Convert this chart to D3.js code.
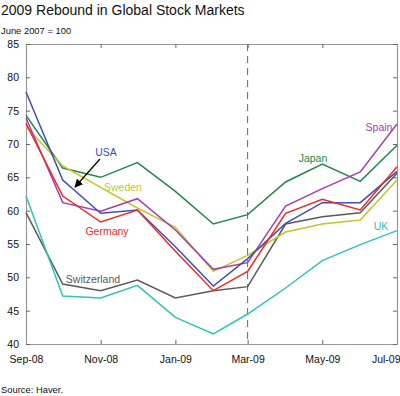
<!DOCTYPE html>
<html>
<head>
<meta charset="utf-8">
<script src="https://cdn.jsdelivr.net/npm/d3@7"></script>
<style>
body { margin: 0; background: #fff; }
text { font-family: "Liberation Sans", Arial, sans-serif; }
</style>
</head>
<body>
<div id="chart"></div>
<script>
const width = 400, height = 396;
const margin = {top: 44, right: 3, bottom: 52, left: 26};

// monthly, Sep-08 .. Jul-09
const months = ["2008-09", "2008-10", "2008-11", "2008-12", "2009-01", "2009-02",
  "2009-03", "2009-04", "2009-05", "2009-06", "2009-07"];
const tickMonths = ["2008-09", "2008-11", "2009-01", "2009-03", "2009-05", "2009-07"];
const yTicks = [40, 45, 50, 55, 60, 65, 70, 75, 80, 85];

const usa         = [77.8, 64.6, 59.6, 60.1, 54.6, 48.7, 52.8, 58.1, 61.2, 61.2, 65.9];
const japan       = [74.3, 66.4, 65.0, 67.2, 62.9, 58.0, 59.4, 64.3, 67.0, 64.4, 69.8];
const sweden      = [72.6, 66.7, 63.5, 60.4, 57.5, 50.9, 53.3, 56.8, 58.0, 58.6, 64.6];
const spain       = [73.9, 61.2, 59.9, 61.8, 57.1, 51.2, 52.2, 60.7, 63.3, 65.8, 73.0];
const germany     = [73.1, 62.2, 58.3, 60.1, 53.9, 48.0, 50.9, 59.6, 61.7, 60.1, 66.6];
const uk          = [62.2, 47.2, 46.9, 48.8, 44.0, 41.5, 44.5, 48.4, 52.5, 54.9, 57.0];
const switzerland = [59.7, 49.0, 48.0, 49.6, 46.9, 48.0, 48.6, 58.0, 59.1, 59.7, 65.6];

const parse = d3.timeParse("%Y-%m");
const fmt = d3.timeFormat("%b-%y");

const series = [
  {name: "Switzerland", values: switzerland, color: "#5a5a5a"},
  {name: "UK", values: uk, color: "#2ec4b6"},
  {name: "Japan", values: japan, color: "#23874a"},
  {name: "Sweden", values: sweden, color: "#c4c42c"},
  {name: "Spain", values: spain, color: "#a43fae"},
  {name: "USA", values: usa, color: "#3f4fb3"},
  {name: "Germany", values: germany, color: "#ec2a24"}
];

const svg = d3.select("#chart").append("svg")
  .attr("width", width).attr("height", height);

const x = d3.scaleTime()
  .domain(d3.extent(months, parse))
  .range([margin.left, width - margin.right]);
const y = d3.scaleLinear()
  .domain([40, 85])
  .range([height - margin.bottom, margin.top]);

// title + subtitle
svg.append("text").attr("x", 1).attr("y", 15)
  .attr("font-size", 14).attr("fill", "#111")
  .text("2009 Rebound in Global Stock Markets");
svg.append("text").attr("x", 1).attr("y", 34)
  .attr("font-size", 9.4).attr("fill", "#111")
  .text("June 2007 = 100");
svg.append("text").attr("x", 1).attr("y", 393)
  .attr("font-size", 9.4).attr("fill", "#111")
  .text("Source: Haver.");

// dashed line at Mar-09
svg.append("line")
  .attr("x1", x(parse("2009-03"))).attr("x2", x(parse("2009-03")))
  .attr("y1", y(85)).attr("y2", y(40))
  .attr("stroke", "#666").attr("stroke-width", 1)
  .attr("stroke-dasharray", "7,5");

// axes, ticks pointing inward
const tickVals = tickMonths.map(parse);
const gx = svg.append("g")
  .attr("transform", `translate(0,${y(40)})`)
  .call(d3.axisBottom(x).tickValues(tickVals).tickFormat(fmt).tickSizeInner(-4).tickSizeOuter(0).tickPadding(12));
const gxTop = svg.append("g")
  .attr("transform", `translate(0,${y(85)})`)
  .call(d3.axisTop(x).tickValues(tickVals).tickFormat("").tickSizeInner(-4).tickSizeOuter(0));
const gy = svg.append("g")
  .attr("transform", `translate(${margin.left},0)`)
  .call(d3.axisLeft(y).tickValues(yTicks).tickSizeInner(-4).tickSizeOuter(0).tickPadding(7));
const gyR = svg.append("g")
  .attr("transform", `translate(${width - margin.right},0)`)
  .call(d3.axisRight(y).tickValues(yTicks).tickFormat("").tickSizeInner(-4).tickSizeOuter(0));

[gx, gxTop, gy, gyR].forEach(g => {
  g.select(".domain").attr("stroke", "#999").attr("stroke-width", 1.2);
  g.selectAll(".tick line").attr("stroke", "#666");
  g.selectAll(".tick text").attr("font-size", 10.5).attr("fill", "#111")
    .attr("font-family", "'Liberation Sans', Arial, sans-serif");
});
// last x label sits flush with the right edge
gx.selectAll(".tick text").filter((d, i, n) => i === n.length - 1)
  .attr("text-anchor", "end").attr("dx", 3);

// lines
const line = d3.line()
  .x((d, i) => x(parse(months[i])))
  .y(d => y(d));

svg.append("g").selectAll("path").data(series)
  .join("path")
  .attr("d", d => line(d.values))
  .attr("fill", "none")
  .attr("stroke", d => d.color)
  .attr("stroke-width", 1.5);

// labels
const labels = [
  {name: "USA", x: 106, y: 156, color: "#3f4fb3"},
  {name: "Sweden", x: 123, y: 191, color: "#c4c42c"},
  {name: "Germany", x: 107, y: 235, color: "#ec2a24"},
  {name: "Switzerland", x: 93, y: 283, color: "#5a5a5a"},
  {name: "Japan", x: 313, y: 162, color: "#23874a"},
  {name: "Spain", x: 379, y: 131, color: "#a43fae"},
  {name: "UK", x: 381, y: 230, color: "#2ec4b6"}
];
svg.append("g").selectAll("text").data(labels)
  .join("text")
  .attr("x", d => d.x).attr("y", d => d.y)
  .attr("text-anchor", "middle")
  .attr("font-size", 10.5)
  .attr("fill", d => d.color)
  .text(d => d.name);

// arrow from USA label
svg.append("defs").append("marker")
  .attr("id", "arrow").attr("viewBox", "0 0 10 10")
  .attr("refX", 9).attr("refY", 5)
  .attr("markerWidth", 7).attr("markerHeight", 7)
  .attr("orient", "auto")
  .append("path").attr("d", "M0,0L10,5L0,10z").attr("fill", "#000");
svg.append("line")
  .attr("x1", 100).attr("y1", 159).attr("x2", 75).attr("y2", 187)
  .attr("stroke", "#000").attr("stroke-width", 1.2)
  .attr("marker-end", "url(#arrow)");
</script>
</body>
</html>
